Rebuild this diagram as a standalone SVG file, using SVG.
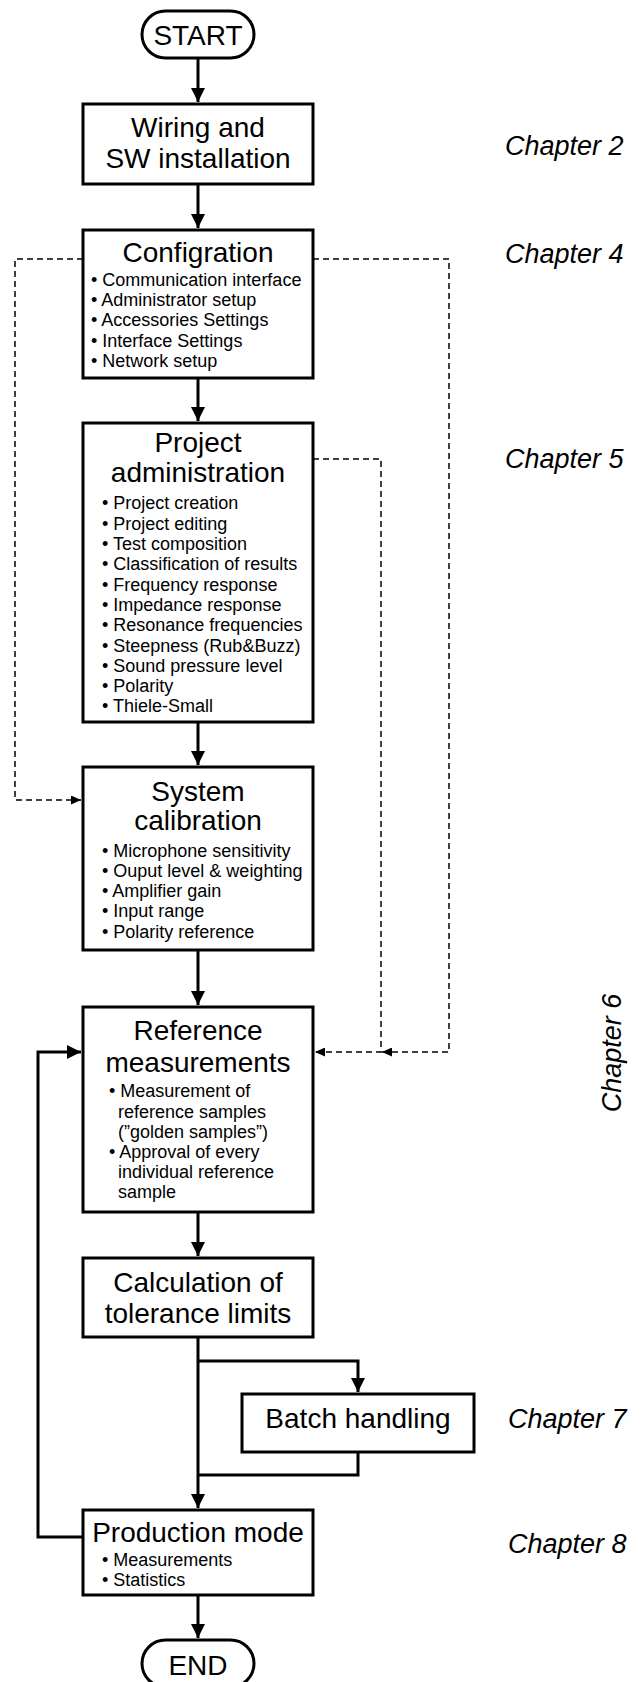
<svg xmlns="http://www.w3.org/2000/svg" width="643" height="1682" viewBox="0 0 643 1682">
<defs>
<style>
.box{fill:#fff;stroke:#000;stroke-width:3}
.t{font-family:"Liberation Sans",Arial,sans-serif;font-size:28px;fill:#000;text-anchor:middle}
.i{font-family:"Liberation Sans",Arial,sans-serif;font-size:18px;fill:#000}
.ch{font-family:"Liberation Sans",Arial,sans-serif;font-size:27px;font-style:italic;fill:#000}
.s{fill:none;stroke:#000;stroke-width:3}
.d{fill:none;stroke:#000;stroke-width:1.5;stroke-dasharray:6 4}
</style>
<marker id="ah" markerUnits="userSpaceOnUse" markerWidth="14" markerHeight="14" refX="14" refY="7" orient="auto"><path d="M0,0 L14,7 L0,14 z" fill="#000"/></marker>
<marker id="dh" markerUnits="userSpaceOnUse" markerWidth="10" markerHeight="9" refX="10" refY="4.5" orient="auto"><path d="M0,0 L10,4.5 L0,9 z" fill="#000"/></marker>
</defs>
<rect width="643" height="1682" fill="#fff"/>
<g id="connectors">
<line class="s" x1="198" y1="58" x2="198" y2="102" marker-end="url(#ah)"/>
<line class="s" x1="198" y1="184" x2="198" y2="228" marker-end="url(#ah)"/>
<line class="s" x1="198" y1="378" x2="198" y2="421" marker-end="url(#ah)"/>
<line class="s" x1="198" y1="722" x2="198" y2="765" marker-end="url(#ah)"/>
<line class="s" x1="198" y1="950" x2="198" y2="1005" marker-end="url(#ah)"/>
<line class="s" x1="198" y1="1212" x2="198" y2="1256" marker-end="url(#ah)"/>
<line class="s" x1="198" y1="1337" x2="198" y2="1508" marker-end="url(#ah)"/>
<polyline class="s" points="198,1361 358,1361 358,1392" marker-end="url(#ah)"/>
<polyline class="s" points="358,1452 358,1475 198,1475"/>
<line class="s" x1="198" y1="1595" x2="198" y2="1638" marker-end="url(#ah)"/>
<polyline class="s" points="83,1537 38,1537 38,1052 81,1052" marker-end="url(#ah)"/>
<polyline class="d" points="83,259 15,259 15,800 81,800" marker-end="url(#dh)"/>
<polyline class="d" points="313,259 449,259 449,1052 382,1052" marker-end="url(#dh)"/>
<polyline class="d" points="313,459 381,459 381,1052 315,1052" marker-end="url(#dh)"/>
</g>
<g id="start">
<rect class="box" x="142" y="11" width="112" height="47" rx="23.5"/>
<text class="t" x="198" y="45">START</text>
</g>
<g id="wiring">
<rect class="box" x="83" y="104" width="230" height="80"/>
<text class="t" x="198" y="137">Wiring and</text>
<text class="t" x="198" y="168">SW installation</text>
</g>
<g id="config">
<rect class="box" x="83" y="230" width="230" height="148"/>
<text class="t" x="198" y="262">Configration</text>
<text class="i" x="91" y="286">• Communication interface</text>
<text class="i" x="91" y="306">• Administrator setup</text>
<text class="i" x="91" y="326">• Accessories Settings</text>
<text class="i" x="91" y="347">• Interface Settings</text>
<text class="i" x="91" y="367">• Network setup</text>
</g>
<g id="project">
<rect class="box" x="83" y="423" width="230" height="299"/>
<text class="t" x="198" y="452">Project</text>
<text class="t" x="198" y="482">administration</text>
<text class="i" x="102" y="509">• Project creation</text>
<text class="i" x="102" y="530">• Project editing</text>
<text class="i" x="102" y="550">• Test composition</text>
<text class="i" x="102" y="570">• Classification of results</text>
<text class="i" x="102" y="591">• Frequency response</text>
<text class="i" x="102" y="611">• Impedance response</text>
<text class="i" x="102" y="631">• Resonance frequencies</text>
<text class="i" x="102" y="652">• Steepness (Rub&amp;Buzz)</text>
<text class="i" x="102" y="672">• Sound pressure level</text>
<text class="i" x="102" y="692">• Polarity</text>
<text class="i" x="102" y="712">• Thiele-Small</text>
</g>
<g id="calibration">
<rect class="box" x="83" y="767" width="230" height="183"/>
<text class="t" x="198" y="801">System</text>
<text class="t" x="198" y="830">calibration</text>
<text class="i" x="102" y="857">• Microphone sensitivity</text>
<text class="i" x="102" y="877">• Ouput level &amp; weighting</text>
<text class="i" x="102" y="897">• Amplifier gain</text>
<text class="i" x="102" y="917">• Input range</text>
<text class="i" x="102" y="938">• Polarity reference</text>
</g>
<g id="reference">
<rect class="box" x="83" y="1007" width="230" height="205"/>
<text class="t" x="198" y="1040">Reference</text>
<text class="t" x="198" y="1072">measurements</text>
<text class="i" x="109" y="1097">• Measurement of</text>
<text class="i" x="118" y="1118">reference samples</text>
<text class="i" x="118" y="1138">(”golden samples”)</text>
<text class="i" x="109" y="1158">• Approval of every</text>
<text class="i" x="118" y="1178">individual reference</text>
<text class="i" x="118" y="1198">sample</text>
</g>
<g id="calculation">
<rect class="box" x="83" y="1258" width="230" height="79"/>
<text class="t" x="198" y="1292">Calculation of</text>
<text class="t" x="198" y="1323">tolerance limits</text>
</g>
<g id="batch">
<rect class="box" x="242" y="1394" width="232" height="58"/>
<text class="t" x="358" y="1428">Batch handling</text>
</g>
<g id="production">
<rect class="box" x="83" y="1510" width="230" height="85"/>
<text class="t" x="198" y="1542">Production mode</text>
<text class="i" x="102" y="1566">• Measurements</text>
<text class="i" x="102" y="1586">• Statistics</text>
</g>
<g id="end">
<rect class="box" x="142" y="1640" width="112" height="47" rx="23.5"/>
<text class="t" x="198" y="1675">END</text>
</g>
<g id="chapters">
<text class="ch" x="505" y="155">Chapter 2</text>
<text class="ch" x="505" y="263">Chapter 4</text>
<text class="ch" x="505" y="468">Chapter 5</text>
<text class="ch" transform="translate(621,1053) rotate(-90)" text-anchor="middle">Chapter 6</text>
<text class="ch" x="508" y="1428">Chapter 7</text>
<text class="ch" x="508" y="1553">Chapter 8</text>
</g>
</svg>
